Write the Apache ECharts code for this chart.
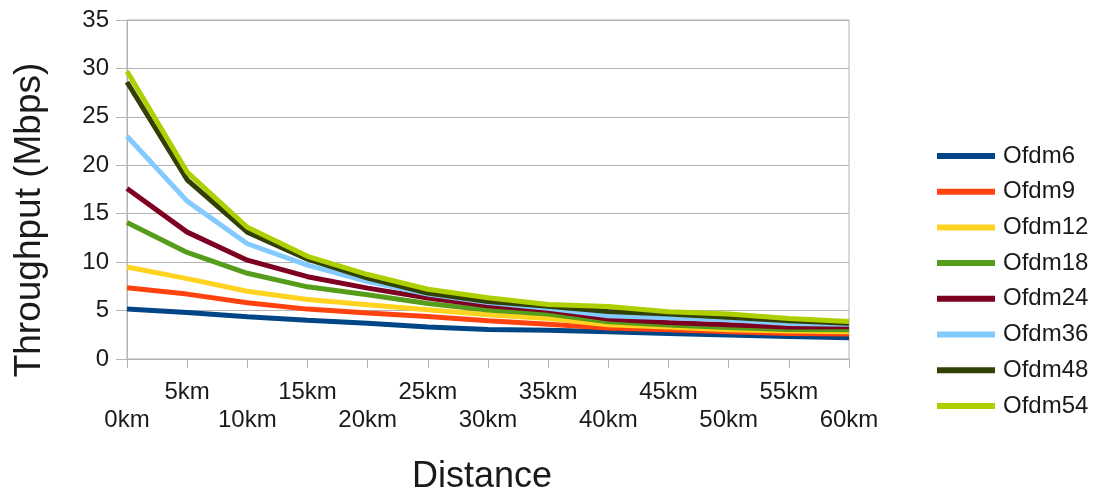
<!DOCTYPE html>
<html>
<head>
<meta charset="utf-8">
<script src="https://cdn.jsdelivr.net/npm/echarts@6/dist/echarts.min.js"></script>
<style>
  html, body { margin: 0; padding: 0; background: #fff; }
  #chart { width: 1096px; height: 497px; }
</style>
</head>
<body>
<div id="chart"></div>
<script>
// Distance steps along the x axis
const distances = ['0km', '5km', '10km', '15km', '20km', '25km', '30km',
                   '35km', '40km', '45km', '50km', '55km', '60km'];

// Throughput (Mbps) per OFDM rate
const ofdm6  = [5.15, 4.8, 4.37, 4.0, 3.7, 3.3, 3.05, 2.97, 2.81, 2.64, 2.47, 2.33, 2.2];
const ofdm9  = [7.35, 6.7, 5.8, 5.15, 4.74, 4.4, 3.95, 3.6, 3.2, 3.02, 2.81, 2.64, 2.58];
const ofdm12 = [9.5, 8.3, 7.0, 6.15, 5.6, 5.08, 4.57, 4.17, 3.54, 3.3, 3.02, 2.88, 2.81];
const ofdm18 = [14.1, 11.0, 8.85, 7.45, 6.63, 5.73, 5.05, 4.65, 3.85, 3.5, 3.26, 3.05, 3.02];
const ofdm24 = [17.6, 13.1, 10.2, 8.5, 7.32, 6.29, 5.5, 5.02, 4.12, 3.77, 3.54, 3.3, 3.33];
const ofdm36 = [23.0, 16.3, 11.9, 9.7, 8.0, 6.7, 5.84, 5.25, 4.46, 4.26, 4.05, 3.67, 3.6];
const ofdm48 = [28.6, 18.5, 13.1, 10.3, 8.35, 6.8, 5.94, 5.45, 4.9, 4.64, 4.3, 3.95, 3.7];
const ofdm54 = [29.7, 19.3, 13.6, 10.6, 8.72, 7.2, 6.32, 5.62, 5.42, 4.88, 4.64, 4.19, 3.88];

const seriesNames = ['Ofdm6', 'Ofdm9', 'Ofdm12', 'Ofdm18', 'Ofdm24', 'Ofdm36', 'Ofdm48', 'Ofdm54'];
const seriesData  = [ofdm6, ofdm9, ofdm12, ofdm18, ofdm24, ofdm36, ofdm48, ofdm54];
const seriesColors = ['#004586', '#ff420e', '#ffd320', '#579d1c', '#7e0021', '#83caff', '#314004', '#aecf00'];

const yTicks = [0, 5, 10, 15, 20, 25, 30, 35];

const FONT = '"Liberation Sans", Arial, sans-serif';
const GRID_GREY = '#b3b3b3';

const chart = echarts.init(document.getElementById('chart'), null, { renderer: 'canvas' });

chart.setOption({
  animation: false,
  backgroundColor: '#ffffff',
  textStyle: { fontFamily: FONT, color: '#000' },
  grid: { left: 127, top: 20, right: 247, bottom: 138, containLabel: false,
          show: true, borderColor: GRID_GREY, borderWidth: 1 },
  legend: {
    orient: 'vertical',
    left: 937,
    top: 142,
    padding: 0,
    icon: 'rect',
    itemWidth: 58,
    itemHeight: 6,
    itemGap: 7.7,
    data: seriesNames,
    textStyle: { fontFamily: FONT, fontSize: 24, color: '#1a1a1a', lineHeight: 28, padding: [0, 0, 0, 3] }
  },
  xAxis: {
    type: 'category',
    boundaryGap: false,
    data: distances,
    axisLine: { lineStyle: { color: GRID_GREY, width: 1 } },
    axisTick: { show: true, length: 9, inside: false, interval: 0, lineStyle: { color: GRID_GREY } },
    splitLine: { show: false },
    axisLabel: {
      interval: 0,
      margin: 19,
      fontFamily: FONT,
      fontSize: 24,
      color: '#1a1a1a',
      lineHeight: 28,
      // alternate labels between two rows
      formatter: (value, index) => (index % 2 === 1 ? value : '\n' + value)
    }
  },
  yAxis: {
    type: 'value',
    min: yTicks[0],
    max: yTicks[yTicks.length - 1],
    interval: 5,
    axisLine: { show: true, lineStyle: { color: GRID_GREY, width: 1 } },
    axisTick: { show: true, length: 11, lineStyle: { color: GRID_GREY } },
    splitLine: { show: true, lineStyle: { color: GRID_GREY, width: 1 } },
    axisLabel: { margin: 18, fontFamily: FONT, fontSize: 24, color: '#1a1a1a' }
  },
  graphic: [
    {
      type: 'text',
      x: 30,
      y: 220,
      rotation: Math.PI / 2,
      style: {
        text: 'Throughput (Mbps)',
        fontFamily: FONT,
        fontSize: 37,
        fill: '#1a1a1a',
        textAlign: 'center',
        textVerticalAlign: 'middle'
      }
    },
    {
      type: 'text',
      x: 482,
      y: 477,
      style: {
        text: 'Distance',
        fontFamily: FONT,
        fontSize: 36,
        fill: '#1a1a1a',
        textAlign: 'center',
        textVerticalAlign: 'middle'
      }
    }
  ],
  series: seriesNames.map((name, i) => ({
    name: name,
    type: 'line',
    data: seriesData[i],
    showSymbol: false,
    symbol: 'none',
    lineStyle: { width: 5, color: seriesColors[i] },
    itemStyle: { color: seriesColors[i] },
    z: 2 + i
  }))
});
</script>
</body>
</html>
